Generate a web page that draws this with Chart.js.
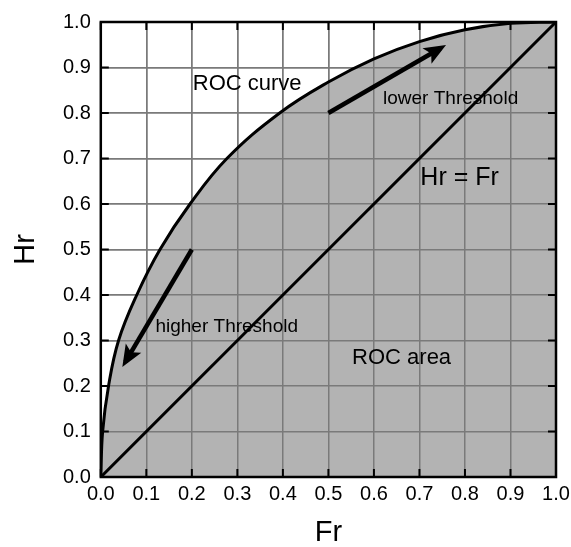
<!DOCTYPE html>
<html lang="en">
<head>
    <meta charset="UTF-8">
    <title>ROC curve</title>
    <script src="https://cdn.jsdelivr.net/npm/chart.js"></script>
    <style>
        html, body { margin: 0; padding: 0; background: #fff; overflow: hidden; }
        .chart-container { position: relative; width: 571px; height: 547px; }
    </style>
</head>
<body>
    <div class="chart-container">
        <canvas id="rocChart"></canvas>
    </div>

    <script>
    // ROC curve
    const rocFr = [0, 0.004, 0.017, 0.039, 0.079, 0.13, 0.196, 0.277, 0.393, 0.5, 0.6, 0.7, 0.8, 0.9, 1.0];
    const rocHr = [0, 0.1, 0.2, 0.3, 0.4, 0.5, 0.6, 0.7, 0.8, 0.868, 0.919, 0.957, 0.983, 0.997, 1.0];

    // Hr = Fr diagonal
    const diagFr = [0, 1];
    const diagHr = [0, 1];

    // arrows (start, end of shaft)
    const higherFr = [0.2, 0.054];
    const higherHr = [0.5, 0.253];
    const lowerFr = [0.5, 0.747];
    const lowerHr = [0.8, 0.943];

    // ticks
    const tickValues = [0, 0.1, 0.2, 0.3, 0.4, 0.5, 0.6, 0.7, 0.8, 0.9, 1.0];
    const tickLabels = ['0.0', '0.1', '0.2', '0.3', '0.4', '0.5', '0.6', '0.7', '0.8', '0.9', '1.0'];

    // text notes [text, Fr, Hr, size]
    const notes = [
        ['ROC curve', 0.202, 0.85, 22],
        ['lower Threshold', 0.62, 0.82, 19],
        ['Hr = Fr', 0.702, 0.641, 25],
        ['higher Threshold', 0.12, 0.319, 19],
        ['ROC area', 0.552, 0.249, 22]
    ];

    const FONT = '"Liberation Sans", Arial, Helvetica, sans-serif';
    const pts = (xs, ys) => xs.map((x, i) => ({x: x, y: ys[i]}));
    const FILL_INDEX = 4;
    const ARROWS = [2, 3];

    const decor = {
        id: 'decor',
        afterDatasetDraw(chart, args) {
            // grid on top of the grey area, below the black lines
            if (args.index === FILL_INDEX) {
                chart.scales.x.drawGrid(chart.chartArea);
                chart.scales.y.drawGrid(chart.chartArea);
            }
        },
        afterDatasetsDraw(chart) {
            const ctx = chart.ctx;
            const a = chart.chartArea;
            const xs = chart.scales.x, ys = chart.scales.y;
            ctx.save();

            // inner tick marks
            ctx.strokeStyle = '#000';
            ctx.lineWidth = 2;
            const tl = 8;
            ctx.beginPath();
            tickValues.forEach(v => {
                const px = xs.getPixelForValue(v);
                ctx.moveTo(px, a.bottom); ctx.lineTo(px, a.bottom - tl);
                ctx.moveTo(px, a.top); ctx.lineTo(px, a.top + tl);
                const py = ys.getPixelForValue(v);
                ctx.moveTo(a.left, py); ctx.lineTo(a.left + tl, py);
                ctx.moveTo(a.right, py); ctx.lineTo(a.right - tl, py);
            });
            ctx.stroke();

            // frame
            ctx.lineWidth = 2.5;
            ctx.strokeRect(a.left, a.top, a.right - a.left, a.bottom - a.top);

            // arrow heads
            ctx.fillStyle = '#000';
            ARROWS.forEach(idx => {
                const d = chart.getDatasetMeta(idx).data;
                const p0 = d[0], p1 = d[d.length - 1];
                const dx = p1.x - p0.x, dy = p1.y - p0.y;
                const L = Math.hypot(dx, dy);
                const ux = dx / L, uy = dy / L;
                const tipX = p1.x + ux * 6, tipY = p1.y + uy * 6;
                const len = 22, hw = 9;
                const bx = tipX - ux * len, by = tipY - uy * len;
                const nx = tipX - ux * len * 0.78, ny = tipY - uy * len * 0.78;
                ctx.beginPath();
                ctx.moveTo(tipX, tipY);
                ctx.lineTo(bx - uy * hw, by + ux * hw);
                ctx.lineTo(nx, ny);
                ctx.lineTo(bx + uy * hw, by - ux * hw);
                ctx.closePath();
                ctx.fill();
            });

            // notes
            ctx.fillStyle = '#000';
            ctx.textAlign = 'left';
            ctx.textBaseline = 'alphabetic';
            notes.forEach(n => {
                ctx.font = n[3] + 'px ' + FONT;
                ctx.fillText(n[0], xs.getPixelForValue(n[1]), ys.getPixelForValue(n[2]));
            });
            ctx.restore();
        }
    };

    const blackLine = (data, w, tension) => ({
        data: data,
        borderColor: '#000',
        borderWidth: w,
        pointRadius: 0,
        tension: tension || 0,
        fill: false,
        order: 0
    });

    document.addEventListener('DOMContentLoaded', function() {
        const axis = (title, isX) => ({
            type: 'linear',
            min: 0,
            max: 1,
            afterBuildTicks: s => { s.ticks = tickValues.map(v => ({value: v})); },
            afterFit: s => { if (isX) { s.paddingRight = 0; s.paddingLeft = 0; } },
            ticks: {
                color: '#000',
                font: {family: FONT, size: 20},
                padding: isX ? 5 : 10,
                maxRotation: 0,
                autoSkip: false,
                callback: (v, i) => tickLabels[i]
            },
            grid: {color: '#7a7a7a', lineWidth: 1.5, drawTicks: false},
            border: {display: false},
            title: {
                display: true,
                text: title,
                color: '#000',
                font: {family: FONT, size: 29, lineHeight: 1},
                padding: isX ? {top: 7, bottom: 0} : {top: 11, bottom: 13}
            }
        });

        new Chart(document.getElementById('rocChart'), {
            type: 'line',
            data: {
                datasets: [
                    blackLine(pts(rocFr, rocHr), 3, 0.4),
                    blackLine(pts(diagFr, diagHr), 3),
                    blackLine(pts(higherFr, higherHr), 4.5),
                    blackLine(pts(lowerFr, lowerHr), 4.5),
                    {
                        data: pts(rocFr, rocHr),
                        borderWidth: 0,
                        borderColor: 'rgba(0,0,0,0)',
                        backgroundColor: '#b3b3b3',
                        pointRadius: 0,
                        tension: 0.4,
                        fill: 'origin',
                        order: 10
                    }
                ]
            },
            options: {
                responsive: true,
                maintainAspectRatio: false,
                animation: false,
                layout: {padding: {top: 20, right: 15, left: 0, bottom: 0}},
                plugins: {legend: {display: false}, tooltip: {enabled: false}},
                scales: {
                    x: axis('Fr', true),
                    y: axis('Hr', false)
                }
            },
            plugins: [decor]
        });
    });
    </script>
</body>
</html>
